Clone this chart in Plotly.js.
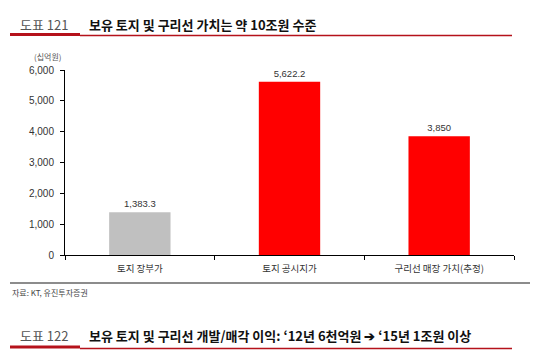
<!DOCTYPE html>
<html>
<head>
<meta charset="utf-8">
<script src="https://cdn.plot.ly/plotly-3.0.1.min.js"></script>
<style>html,body{margin:0;padding:0;background:#fff;}#chart{width:540px;height:360px;}</style>
</head>
<body>
<div id="chart"></div>
<script>
const categories = ["토지 장부가", "토지 공시지가", "구리선 매장 가치(추정)"];
const values = [1383.3, 5622.2, 3850];
const barColors = ["#c0c0c0", "#ff0000", "#ff0000"];
const yTickVals = [0, 1000, 2000, 3000, 4000, 5000, 6000];
const yTickText = ["0", "1,000", "2,000", "3,000", "4,000", "5,000", "6,000"];
const chartTitle = "보유 토지 및 구리선 가치는 약 10조원 수준";
const chartNo = "도표 121";
const nextNo = "도표 122";
const nextTitle = "보유 토지 및 구리선 개발/매각 이익: ‘12년 6천억원 ➔ ‘15년 1조원 이상";
const unitLabel = "(십억원)";
const sourceLabel = "자료: KT, 유진투자증권";

const KR = '"Noto Sans CJK KR", "Liberation Sans", sans-serif';
const NUM = '"Liberation Sans", Arial, sans-serif';

// plot area pixel frame
const L = 65, R = 514, T = 70, B = 255;
const px = x => (x - L) / (R - L);
const py = y => (B - y) / (B - T);

const trace = {
  type: 'bar',
  x: categories,
  y: values,
  marker: {color: barColors, line: {width: 0}},
  texttemplate: '%{y:,}',
  textposition: 'outside',
  cliponaxis: false,
  textfont: {family: NUM, size: 9.5, color: '#333'},
  hoverinfo: 'none'
};

const red = '#b5121b';
const layout = {
  width: 540, height: 360,
  margin: {l: L, r: 540 - R, t: T, b: 360 - B},
  paper_bgcolor: '#fff', plot_bgcolor: '#fff',
  showlegend: false,
  bargap: 0.59,
  font: {family: KR, size: 9, color: '#333'},
  xaxis: {
    type: 'category',
    showline: true, linecolor: '#000', linewidth: 1,
    ticks: 'outside', tickson: 'boundaries', ticklen: 4, tickcolor: '#000',
    ticklabelstandoff: 5,
    showgrid: false, zeroline: false,
    tickfont: {family: KR, size: 9.5, color: '#333'}
  },
  yaxis: {
    range: [0, 6000],
    tickvals: yTickVals, ticktext: yTickText,
    showline: true, linecolor: '#000', linewidth: 1,
    ticks: 'outside', ticklen: 4, tickcolor: '#000',
    ticklabelstandoff: 4,
    showgrid: false, zeroline: false,
    tickfont: {family: NUM, size: 10, color: '#333'}
  },
  shapes: [
    {type: 'line', xref: 'paper', yref: 'paper', x0: px(10), x1: px(80), y0: py(34.5), y1: py(34.5), line: {color: red, width: 3}},
    {type: 'line', xref: 'paper', yref: 'paper', x0: px(80), x1: px(512), y0: py(35.5), y1: py(35.5), line: {color: red, width: 1.5}},
    {type: 'line', xref: 'paper', yref: 'paper', x0: px(10), x1: px(530), y0: py(283), y1: py(283), line: {color: '#8c8c8c', width: 2}},
    {type: 'line', xref: 'paper', yref: 'paper', x0: px(10), x1: px(80), y0: py(347), y1: py(347), line: {color: red, width: 3}},
    {type: 'line', xref: 'paper', yref: 'paper', x0: px(80), x1: px(512), y0: py(348.5), y1: py(348.5), line: {color: red, width: 1.5}}
  ],
  annotations: [
    {xref: 'paper', yref: 'paper', x: px(18), y: py(24), xanchor: 'left', yanchor: 'middle', showarrow: false,
     text: chartNo, font: {family: KR, size: 13, color: '#555'}},
    {xref: 'paper', yref: 'paper', x: px(87), y: py(24), xanchor: 'left', yanchor: 'middle', showarrow: false,
     text: '<b>' + chartTitle + '</b>', font: {family: KR, size: 13, color: '#111'}},
    {xref: 'paper', yref: 'paper', x: px(48), y: py(56), xanchor: 'center', yanchor: 'middle', showarrow: false,
     text: unitLabel, font: {family: KR, size: 8, color: '#555'}},
    {xref: 'paper', yref: 'paper', x: px(10), y: py(292), xanchor: 'left', yanchor: 'middle', showarrow: false,
     text: sourceLabel, font: {family: KR, size: 8, color: '#444'}},
    {xref: 'paper', yref: 'paper', x: px(18), y: py(335), xanchor: 'left', yanchor: 'middle', showarrow: false,
     text: nextNo, font: {family: KR, size: 13, color: '#555'}},
    {xref: 'paper', yref: 'paper', x: px(87), y: py(335), xanchor: 'left', yanchor: 'middle', showarrow: false,
     text: '<b>' + nextTitle + '</b>', font: {family: KR, size: 13, color: '#111'}}
  ]
};

Plotly.newPlot('chart', [trace], layout, {displayModeBar: false, staticPlot: true});
</script>
</body>
</html>
